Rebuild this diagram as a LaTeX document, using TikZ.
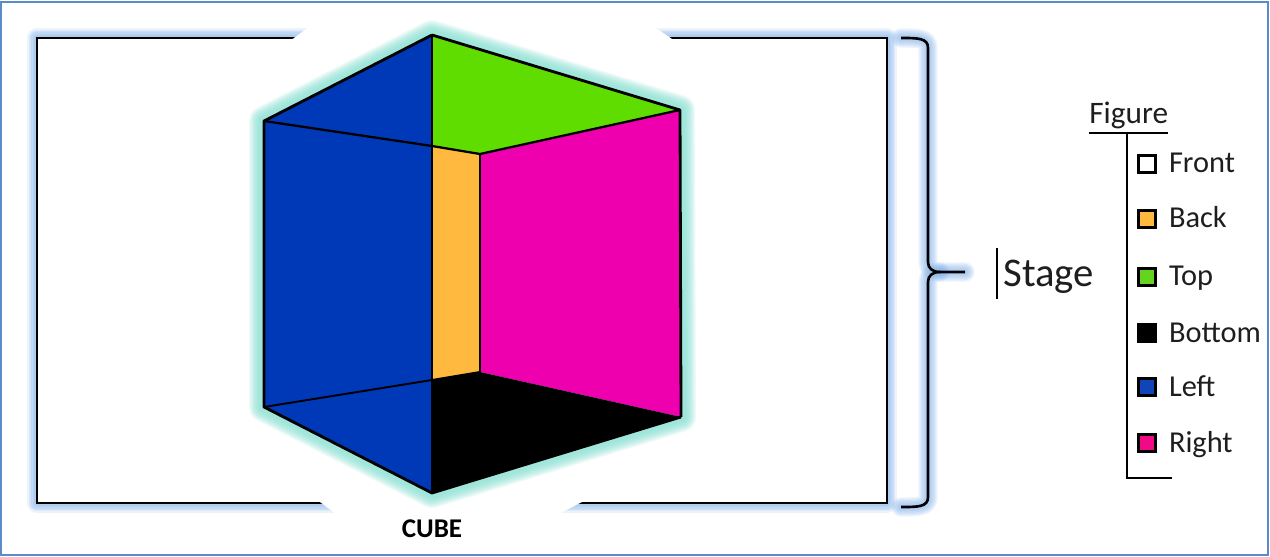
\documentclass[tikz,border=0pt]{standalone}
\usepackage{fontspec}
\setmainfont{Carlito}
\usetikzlibrary{positioning}
\definecolor{FrameBlue}{RGB}{91,139,200}
\definecolor{HaloBlue}{RGB}{120,170,230}
\definecolor{HaloTeal}{RGB}{120,222,205}
\definecolor{FaceBlue}{RGB}{0,57,184}
\definecolor{FaceGreen}{RGB}{95,220,0}
\definecolor{FaceMagenta}{RGB}{238,0,174}
\definecolor{FaceOrange}{RGB}{255,185,63}
\definecolor{KeyPink}{RGB}{240,10,135}
\definecolor{KeyGreen}{RGB}{102,212,31}
\definecolor{KeyBlue}{RGB}{15,69,184}
\definecolor{LabelInk}{RGB}{30,30,30}
\tikzset{
  edge/.style={draw=black,line width=1.6pt,line join=round},
  stageline/.style={draw=black,line width=1.5pt},
  keyline/.style={draw=black,line width=1.3pt},
  swatch/.style={draw=black,line width=1.3pt,minimum size=0.34cm,inner sep=0pt},
  keytext/.style={font=\fontsize{17.3}{20}\selectfont,text=LabelInk,inner sep=0pt,
    text height=0.46cm,text depth=0.1cm},
  headtext/.style={font=\fontsize{17.8}{20}\selectfont,text=LabelInk,inner sep=0pt,anchor=base west}
}

\begin{document}
\begin{tikzpicture}[x=0.02cm,y=-0.02cm]
  \useasboundingbox (0,0) rectangle (1270,557);
  \draw[FrameBlue,line width=1pt] (1,2) rectangle (1268,555);
  % stage
  \coordinate (stageA) at (37,38);
  \coordinate (stageB) at (887,503);
  \foreach \w in {11,9.5,8,6.5,5,3.5}
    \draw[HaloBlue,opacity=0.14,line width=\w pt,line join=round] (stageA) rectangle (stageB);
  \draw[stageline,fill=white] (stageA) rectangle (stageB);
  \fill[white] (290,41) -- (310,26) -- (653,26) -- (675,41) -- (582,502)
    -- (553,517) -- (340,517) -- (320,502) -- cycle;
  % cube corners
  \coordinate (top) at (432,35);
  \coordinate (tl) at (264,121);
  \coordinate (tr) at (680,110);
  \coordinate (tc) at (432,146);
  \coordinate (ti) at (480,154);
  \coordinate (bl) at (264,407);
  \coordinate (br) at (681,417);
  \coordinate (bot) at (432,493);
  \coordinate (bc) at (432,380);
  \coordinate (bi) at (480,372);
  \foreach \w in {17,15.5,14,12.5,11,9.5,8,6}
    \draw[HaloTeal,opacity=0.13,line width=\w pt,line join=round,fill=HaloTeal]
      (top) -- (tr) -- (br) -- (bot) -- (bl) -- (tl) -- cycle;
  \fill[FaceBlue] (top) -- (tc) -- (bc) -- (bot) -- (bl) -- (tl) -- cycle;
  \fill[FaceGreen] (top) -- (tr) -- (ti) -- (tc) -- cycle;
  \fill[FaceOrange] (tc) -- (ti) -- (bi) -- (bc) -- cycle;
  \fill[FaceMagenta] (ti) -- (tr) -- (br) -- (bi) -- cycle;
  \fill[black] (bc) -- (bi) -- (br) -- (bot) -- cycle;
  \draw[edge] (top) -- (tr) -- (br);
  \draw[edge] (top) -- (tl) -- (bl) -- (bot) -- (br);
  \draw[edge] (top) -- (bot);
  \draw[edge,line width=1.3pt] (tl) -- (tc) -- (ti) -- (tr);
  \draw[edge,line width=1.3pt] (ti) -- (bi);
  \draw[edge,line width=1.1pt] (bl) -- (bc) -- (bi);
  \node[font=\fontsize{15.4}{18}\selectfont\bfseries,text=black,inner sep=0pt] (cubename) at (432,529) {CUBE};
  % brace
  \coordinate (braceT) at (901,38);
  \coordinate (braceB) at (901,507);
  \coordinate (braceM) at (965,272);
  \foreach \w in {11,9.5,8,6.5,5,3.5} {
    \draw[HaloBlue,opacity=0.13,line width=\w pt,line cap=round]
      (braceT) .. controls (918,38) and (928,38) .. (928,48) -- (928,262)
      .. controls (928,268) and (932,272) .. (940,272) -- (braceM);
    \draw[HaloBlue,opacity=0.13,line width=\w pt,line cap=round]
      (braceB) .. controls (918,507) and (928,507) .. (928,497) -- (928,282)
      .. controls (928,276) and (932,272) .. (940,272);
  }
  \draw[stageline] (braceT) .. controls (918,38) and (928,38) .. (928,48) -- (928,262)
    .. controls (928,268) and (932,272) .. (940,272) -- (braceM);
  \draw[stageline] (braceB) .. controls (918,507) and (928,507) .. (928,497) -- (928,282)
    .. controls (928,276) and (932,272) .. (940,272);
  % labels
  \coordinate (barT) at (997,248);
  \coordinate (barB) at (997,299);
  \draw[keyline] (barT) -- (barB);
  \node[headtext,font=\fontsize{23.2}{26}\selectfont] (stagename) at (1003,286) {Stage};
  \node[headtext] (figurename) at (1089,124) {Figure};
  \coordinate (ruleL) at (1089,133);
  \coordinate (ruleR) at (1168,133);
  \coordinate (stemT) at (1127,133);
  \coordinate (stemB) at (1127,478);
  \coordinate (stemF) at (1172,478);
  \draw[keyline] (ruleL) -- (ruleR);
  \draw[keyline] (stemT) -- (stemB) -- (stemF);
  \foreach \name/\col/\ypos in {Front/white/164,Back/FaceOrange/219,Top/KeyGreen/277,
      Bottom/black/333,Left/KeyBlue/387,Right/KeyPink/443} {
    \node[swatch,fill=\col] (key\name) at (1147,\ypos) {};
    \node[keytext,right=0.24cm of key\name] (label\name) {\name};
  }
\end{tikzpicture}
\end{document}
